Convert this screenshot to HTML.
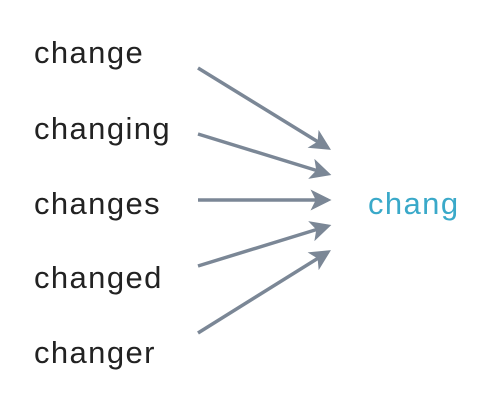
<!DOCTYPE html>
<html><head><style>
body{margin:0;background:#fff;width:490px;height:412px;overflow:hidden}
svg{display:block}
text{font-family:"Liberation Sans",sans-serif;font-size:31px;letter-spacing:1.4px}
</style></head><body>
<svg width="490" height="412" viewBox="0 0 490 412">
<g fill="#222">
<text x="34" y="63">change</text>
<text x="34" y="139">changing</text>
<text x="34" y="214">changes</text>
<text x="34" y="288">changed</text>
<text x="34" y="363">changer</text>
</g>
<text x="368" y="214" fill="#3aa9c9">chang</text>
<defs><marker id="a" markerWidth="6" markerHeight="6" refX="5" refY="3" orient="auto" markerUnits="strokeWidth">
<path d="M0,0 L6,3 L0,6 L1.5,3 Z" fill="#7b8796"/></marker></defs>
<g stroke="#7b8796" stroke-width="3.5" marker-end="url(#a)">
<line x1="198" y1="68" x2="328" y2="148"/>
<line x1="198" y1="134" x2="328" y2="174"/>
<line x1="198" y1="200" x2="328" y2="200"/>
<line x1="198" y1="266" x2="328" y2="226"/>
<line x1="198" y1="333" x2="328" y2="252"/>
</g>
</svg>
</body></html>
